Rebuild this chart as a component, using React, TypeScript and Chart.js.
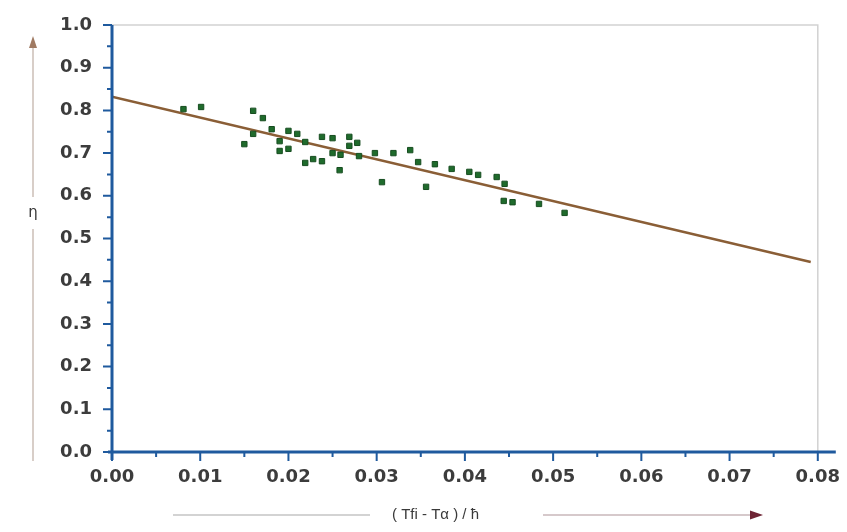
import React, { useEffect, useRef } from "react";
import { Chart, registerables } from "chart.js";

Chart.register(...registerables);

// Measured points: (Tfi - Ta)/I  vs  efficiency
const X_VALUES = [
  0.0081, 0.0101, 0.0150, 0.0160, 0.0160, 0.0171, 0.0181, 0.0190, 0.0190, 0.0200,
  0.0200, 0.0210, 0.0219, 0.0219, 0.0228, 0.0238, 0.0238, 0.0250, 0.0250, 0.0259,
  0.0258, 0.0269, 0.0269, 0.0278, 0.0280, 0.0298, 0.0306, 0.0319, 0.0338, 0.0347,
  0.0356, 0.0366, 0.0385, 0.0405, 0.0415, 0.0436, 0.0445, 0.0444, 0.0454, 0.0484,
  0.0513,
];
const Y_VALUES = [
  0.803, 0.808, 0.721, 0.799, 0.745, 0.782, 0.756, 0.728, 0.705, 0.752,
  0.710, 0.745, 0.726, 0.677, 0.686, 0.681, 0.738, 0.735, 0.700, 0.696,
  0.660, 0.738, 0.717, 0.724, 0.693, 0.700, 0.632, 0.700, 0.707, 0.679,
  0.621, 0.674, 0.663, 0.656, 0.649, 0.644, 0.628, 0.588, 0.585, 0.581,
  0.560,
];

// Fitted straight line
const FIT_X = [0.0, 0.0792];
const FIT_Y = [0.832, 0.445];

// Axis ticks
const X_TICKS = [0.0, 0.01, 0.02, 0.03, 0.04, 0.05, 0.06, 0.07, 0.08];
const Y_TICKS = [0.0, 0.1, 0.2, 0.3, 0.4, 0.5, 0.6, 0.7, 0.8, 0.9, 1.0];

const X_TITLE = "( Tfi - Tα ) / ħ";
const Y_TITLE = "η";

const AXIS_BLUE = "#1f5a9e";
const LABEL_FONT = { family: "'DejaVu Sans', sans-serif", size: 18, weight: "bold" as const };

const decorPlugin = {
  id: "decor",
  afterDraw(chart: any) {
    const ctx = chart.ctx as CanvasRenderingContext2D;
    const { left, right, top, bottom } = chart.chartArea;
    const xs = chart.scales.x;
    const ys = chart.scales.y;
    ctx.save();

    // light frame top/right
    ctx.strokeStyle = "#d2d2d2";
    ctx.lineWidth = 1.5;
    ctx.beginPath();
    ctx.moveTo(left, top);
    ctx.lineTo(right, top);
    ctx.lineTo(right, bottom);
    ctx.stroke();

    // axis lines
    ctx.strokeStyle = AXIS_BLUE;
    ctx.lineWidth = 3;
    ctx.beginPath();
    ctx.moveTo(left, top);
    ctx.lineTo(left, bottom + 8);
    ctx.moveTo(left - 4, bottom);
    ctx.lineTo(right + 18, bottom);
    ctx.stroke();

    // ticks (major + minor halfway)
    ctx.lineWidth = 2;
    ctx.beginPath();
    Y_TICKS.forEach((v, i) => {
      const py = ys.getPixelForValue(v);
      ctx.moveTo(left, py);
      ctx.lineTo(left - 9, py);
      if (i < Y_TICKS.length - 1) {
        const pm = ys.getPixelForValue((v + Y_TICKS[i + 1]) / 2);
        ctx.moveTo(left, pm);
        ctx.lineTo(left - 5, pm);
      }
    });
    X_TICKS.forEach((v, i) => {
      const px = xs.getPixelForValue(v);
      ctx.moveTo(px, bottom);
      ctx.lineTo(px, bottom + 9);
      if (i < X_TICKS.length - 1) {
        const pm = xs.getPixelForValue((v + X_TICKS[i + 1]) / 2);
        ctx.moveTo(pm, bottom);
        ctx.lineTo(pm, bottom + 5);
      }
    });
    ctx.stroke();

    // Y title with arrow
    const ax = 33;
    ctx.strokeStyle = "#cbbfb6";
    ctx.lineWidth = 1.5;
    ctx.beginPath();
    ctx.moveTo(ax, 46);
    ctx.lineTo(ax, 197);
    ctx.moveTo(ax, 229);
    ctx.lineTo(ax, 461);
    ctx.stroke();
    ctx.fillStyle = "#a07a62";
    ctx.beginPath();
    ctx.moveTo(ax, 36);
    ctx.lineTo(ax - 4, 48);
    ctx.lineTo(ax + 4, 48);
    ctx.closePath();
    ctx.fill();
    ctx.fillStyle = "#3a3a3a";
    ctx.font = "15px 'DejaVu Sans', sans-serif";
    ctx.textAlign = "center";
    ctx.textBaseline = "middle";
    ctx.fillText(Y_TITLE, ax, 213);

    // X title with arrow
    const ty = 515;
    ctx.strokeStyle = "#c4c4c4";
    ctx.lineWidth = 1.5;
    ctx.beginPath();
    ctx.moveTo(173, ty);
    ctx.lineTo(370, ty);
    ctx.stroke();
    ctx.strokeStyle = "#c9b7ba";
    ctx.beginPath();
    ctx.moveTo(543, ty);
    ctx.lineTo(752, ty);
    ctx.stroke();
    ctx.fillStyle = "#6e2434";
    ctx.beginPath();
    ctx.moveTo(763, ty);
    ctx.lineTo(750, ty - 4.5);
    ctx.lineTo(750, ty + 4.5);
    ctx.closePath();
    ctx.fill();
    ctx.fillStyle = "#3a3a3a";
    ctx.font = "15px 'Liberation Sans', Arial, sans-serif";
    ctx.textAlign = "left";
    ctx.fillText(X_TITLE, 392, ty);

    ctx.restore();
  },
};

export default function App() {
  const ref = useRef<HTMLCanvasElement | null>(null);

  useEffect(() => {
    if (!ref.current) return;
    const points = X_VALUES.map((x, i) => ({ x, y: Y_VALUES[i] }));
    const fit = FIT_X.map((x, i) => ({ x, y: FIT_Y[i] }));
    const chart = new Chart(ref.current, {
      type: "scatter",
      data: {
        datasets: [
          {
            type: "line",
            data: fit,
            borderColor: "#8a5e36",
            borderWidth: 2.5,
            pointRadius: 0,
            fill: false,
            order: 2,
          } as any,
          {
            data: points,
            pointStyle: "rect",
            pointRadius: 3.8,
            backgroundColor: "#1f6b2c",
            borderColor: "#174d20",
            borderWidth: 1,
            order: 1,
          },
        ],
      },
      options: {
        animation: false,
        responsive: false,
        events: [],
        layout: { padding: { left: 0, top: 25, right: 27, bottom: 0 } },
        plugins: {
          legend: { display: false },
          tooltip: { enabled: false },
        },
        scales: {
          x: {
            type: "linear",
            min: 0,
            max: 0.08,
            grid: { display: false },
            border: { display: false },
            afterBuildTicks: (s: any) => {
              s.ticks = X_TICKS.map((v) => ({ value: v }));
            },
            afterFit: (s: any) => {
              s.height = 80;
            },
            ticks: {
              padding: 7,
              color: "#3c3c3c",
              font: LABEL_FONT,
              maxRotation: 0,
              autoSkip: false,
              callback: (v: any) => Number(v).toFixed(2),
            },
          },
          y: {
            type: "linear",
            min: 0,
            max: 1,
            grid: { display: false },
            border: { display: false },
            afterBuildTicks: (s: any) => {
              s.ticks = Y_TICKS.map((v) => ({ value: v }));
            },
            afterFit: (s: any) => {
              s.width = 112;
            },
            ticks: {
              padding: 12,
              color: "#3c3c3c",
              font: LABEL_FONT,
              autoSkip: false,
              callback: (v: any) => Number(v).toFixed(1),
            },
          },
        },
      },
      plugins: [decorPlugin],
    });
    return () => chart.destroy();
  }, []);

  return (
    <div style={{ position: "fixed", left: 0, top: 0, width: 847, height: 532, background: "#fff" }}>
      <canvas ref={ref} width={847} height={532} style={{ display: "block" }} />
    </div>
  );
}
